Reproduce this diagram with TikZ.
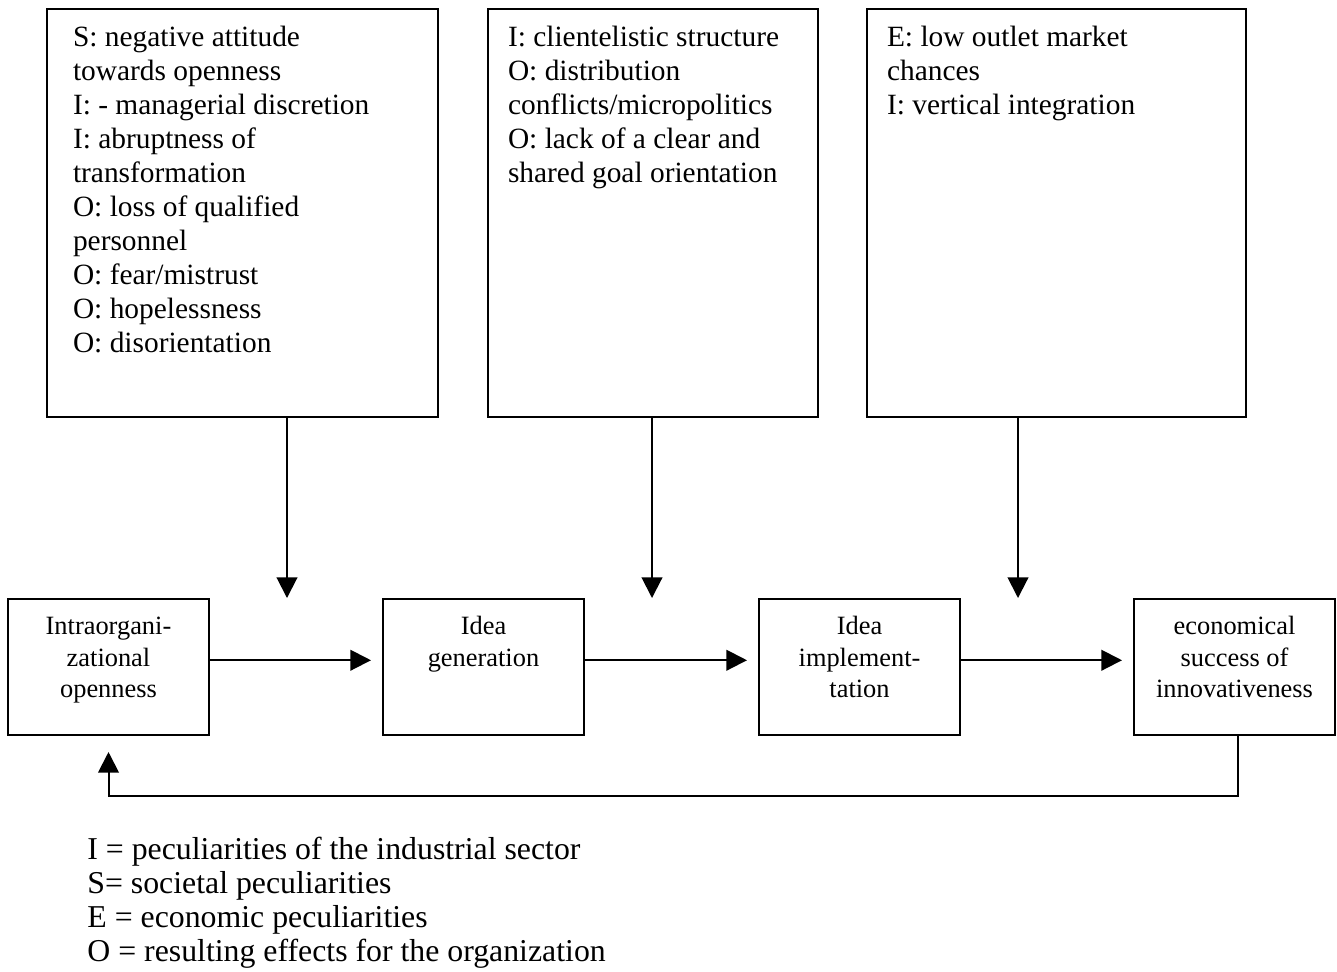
\documentclass[tikz,border=0pt]{standalone}
\usepackage{fontspec}
\setmainfont{Liberation Serif}
\usetikzlibrary{arrows.meta, positioning}

\newcommand{\boxlines}[3]{\parbox[b][#2][t]{#1}{\raggedright\rule{0pt}{18.5pt}#3}}
\newcommand{\stagelines}[1]{\parbox[b][68.25pt][t]{100.5pt}{\centering\rule{0pt}{18pt}#1}}

\begin{document}
\begin{tikzpicture} [x=0.5pt, y=-0.5pt,
    factorbox/.style={draw, line width=1pt, outer sep=0pt, anchor=north west, inner ysep=0pt, font=\fontsize{14.7}{17}\selectfont},
    stagebox/.style={draw, line width=1pt, outer sep=0pt, inner sep=0pt, font=\fontsize{13.2}{15.75}\selectfont},
    flow/.style={-{Triangle[length=10.3pt, width=10.3pt]}, line width=1pt}]
        \useasboundingbox (0,0) rectangle (1337,971);

        \node (s1) [factorbox, inner xsep=13pt] at (47,9) {\boxlines{169.5pt}{204pt}{S: negative attitude\\ towards openness\\ I: - managerial discretion\\ I: abruptness of\\ transformation\\ O: loss of qualified\\ personnel\\ O: fear/mistrust\\ O: hopelessness\\ O: disorientation}};
        \node (s2) [factorbox, inner xsep=10pt, right=25pt of s1] {\boxlines{145pt}{204pt}{I: clientelistic structure\\ O: distribution\\ conflicts/micropolitics\\ O: lack of a clear and\\ shared goal orientation}};
        \node (s3) [factorbox, inner xsep=10pt, right=24.5pt of s2] {\boxlines{169.5pt}{204pt}{E: low outlet market\\ chances\\ I: vertical integration}};

        \node (o1) [stagebox, anchor=north west] at (8,598.5) {\stagelines{Intraorgani-\\ zational\\ openness}};
        \node (o2) [stagebox, right=87pt of o1] {\stagelines{Idea\\ generation}};
        \node (o3) [stagebox, right=87.5pt of o2] {\stagelines{Idea\\ implement-\\ tation}};
        \node (o4) [stagebox, right=87pt of o3] {\stagelines{economical\\ success of\\ innovativeness}};

        \coordinate (d1) at (287,598);
        \coordinate (d2) at (652,598);
        \coordinate (d3) at (1018,598);

        \draw [flow] (s1.south -| d1) -- (d1);
        \draw [flow] (s2.south -| d2) -- (d2);
        \draw [flow] (s3.south -| d3) -- (d3);

        \draw [flow, shorten >=6pt] ([yshift=3.25pt]o1.east) -- ([yshift=3.25pt]o2.west);
        \draw [flow, shorten >=6pt] ([yshift=3.25pt]o2.east) -- ([yshift=3.25pt]o3.west);
        \draw [flow, shorten >=6pt] ([yshift=3.25pt]o3.east) -- ([yshift=3.25pt]o4.west);
        \draw [flow, shorten >=8.5pt] ([xshift=1.5pt]o4.south) -- ++(0,61) -| (o1.south);

        \node (key) [anchor=base west, inner sep=0pt, font=\fontsize{15.9}{17}\selectfont] at (87,859) {\parbox[t]{300pt}{I = peculiarities of the industrial sector\\ S= societal peculiarities\\ E = economic peculiarities\\ O = resulting effects for the organization}};
    \end{tikzpicture}
\end{document}
